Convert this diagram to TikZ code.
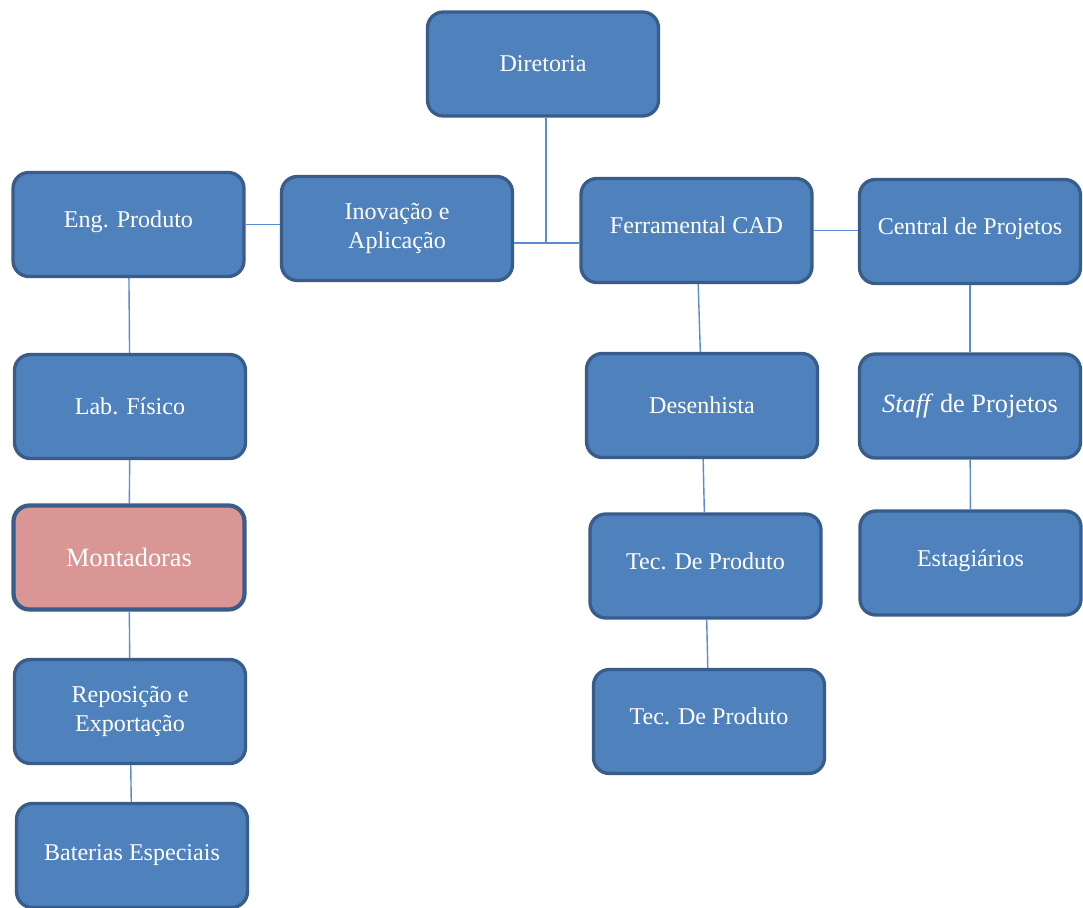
\documentclass[tikz,border=0pt]{standalone}
\usepackage{fontspec}
\setmainfont{Liberation Serif}
\newfontfamily\orgfont{Liberation Serif}
\usetikzlibrary{positioning}
\definecolor{boxblue}{HTML}{4F81BD}
\definecolor{boxedge}{HTML}{385D8A}
\definecolor{boxpink}{HTML}{D99694}
\definecolor{linkblue}{HTML}{5B8BD0}

\begin{document}
\begin{tikzpicture}[x=0.02cm,y=-0.02cm,
    unit/.style={draw=boxedge,line width=1.9pt,fill=boxblue,rounded corners=9pt,
        text=white,minimum width=4.62cm,minimum height=2.08cm,align=center,inner sep=0pt,
        font=\orgfont\fontsize{13.7}{16}\selectfont},
    narrow/.style={minimum width=4.42cm},
    big/.style={font=\orgfont\fontsize{15}{17}\selectfont},
    up/.style={text depth=6pt},
    link/.style={draw=linkblue,line width=0.8pt}]
    \clip (0,0) rectangle (1083,908);
    \fill[white] (0,0) rectangle (1083,908);
    %
    \node[unit] (Diretoria) at (543,64) {Diretoria};
    \node[unit,up] (Eng) at (128.5,224.5) {Eng. Produto};
    \node[unit] (Inovacao) at (397,228.5) {Inovação e\\Aplicação};
    \node[unit,up] (Ferramental) at (696.5,230.5) {Ferramental CAD};
    \node[unit,narrow,up] (Central) at (970,231.5) {Central de Projetos};
    %
    \node[unit] (Lab) at (130,406.5) {Lab. Físico};
    \node[unit,big,fill=boxpink,line width=2.4pt] (Montadoras) at (129,557.5) {Montadoras};
    \node[unit] (Reposicao) at (130,711.5) {Reposição e\\Exportação};
    \node[unit] (Baterias) at (132,855.5) {Baterias Especiais};
    %
    \node[unit] (Desenhista) at (702,405.5) {Desenhista};
    \node[unit,up] (Tec1) at (705.5,566) {Tec. De Produto};
    \node[unit,up] (Tec2) at (709,721.5) {Tec. De Produto};
    %
    \node[unit,narrow,big] (Staff) at (970,406) {\textit{Staff} de Projetos};
    \node[unit,narrow,up] (Estagiarios) at (970.5,563) {Estagiários};
    %
    \coordinate (junction) at (546,243);
    \draw[link] (Diretoria.south -| junction) -- (junction);
    \draw[link] (Inovacao.east |- junction) -- (Ferramental.west |- junction);
    \draw[link] (Eng.east) -- (Eng.east -| Inovacao.west);
    \draw[link] (Ferramental.east) -- (Ferramental.east -| Central.west);
    %
    \draw[link] (Eng) -- (Lab);
    \draw[link] (Lab) -- (Montadoras);
    \draw[link] (Montadoras) -- (Reposicao);
    \draw[link] (Reposicao) -- (Baterias);
    \draw[link] (Ferramental) -- (Desenhista);
    \draw[link] (Desenhista) -- (Tec1);
    \draw[link] (Tec1) -- (Tec2);
    \draw[link] (Central) -- (Staff);
    \draw[link] (Staff) -- (Estagiarios);
\end{tikzpicture}
\end{document}
